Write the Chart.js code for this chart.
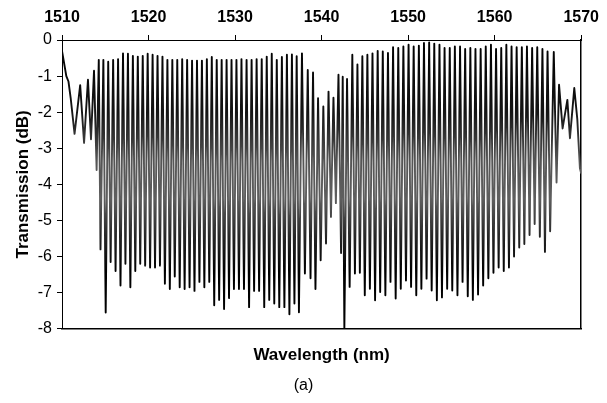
<!DOCTYPE html>
<html>
<head>
<meta charset="utf-8">
<title>Transmission spectrum</title>
<script src="https://cdn.jsdelivr.net/npm/chart.js@4/dist/chart.umd.min.js"></script>
<style>
    html, body { margin: 0; padding: 0; background: #fff; }
    #wrap { width: 607px; height: 403px; }
</style>
</head>
<body>
<div id="wrap"><canvas id="specChart" width="607" height="403"></canvas></div>
<script>
/*************************************************
 * 1. Data (nm / dB)
 *************************************************/
const xTicks = [1510, 1520, 1530, 1540, 1550, 1560, 1570];
const yTicks = [0, -1, -2, -3, -4, -5, -6, -7, -8];

// slow ripples at both ends of the sweep
const edgeNm = [1510.00, 1510.50, 1510.75, 1511.00, 1511.45, 1512.10, 1512.55, 1513.00, 1513.35, 1513.70,
    1514.00, 1514.25, 1514.45, 1514.78,
    1567.15, 1567.44, 1567.85, 1568.40, 1568.70, 1569.20, 1569.55, 1569.85, 1570.00];
const edgeDb = [-0.30, -1.00, -1.15, -1.60, -2.60, -1.25, -2.85, -1.10, -2.75, -0.85,
    -3.60, -0.55, -5.80, -0.55,
    -3.95, -1.24, -2.45, -1.66, -2.72, -1.33, -2.20, -3.55, -3.70];

// fringe maxima
const peakNm = [
    1515.34, 1515.91, 1516.48, 1517.05, 1517.62, 1518.19, 1518.76, 1519.33, 1519.90, 1520.47,
    1521.04, 1521.61, 1522.18, 1522.75, 1523.32, 1523.89, 1524.46, 1525.03, 1525.60, 1526.17,
    1526.74, 1527.31, 1527.88, 1528.45, 1529.02, 1529.59, 1530.16,
    1530.74, 1531.33, 1531.91, 1532.49, 1533.08, 1533.66, 1534.24, 1534.82, 1535.41, 1535.99,
    1536.57, 1537.12, 1537.73, 1538.40, 1539.01, 1539.59, 1540.20, 1540.80, 1541.37, 1541.95,
    1542.44, 1542.94, 1543.55, 1544.14, 1544.71, 1545.29,
    1545.88, 1546.48, 1547.07, 1547.67, 1548.26, 1548.86, 1549.45, 1550.05, 1550.64, 1551.24,
    1551.83, 1552.43, 1553.02, 1553.62, 1554.21, 1554.81, 1555.40, 1556.00, 1556.59, 1557.19,
    1557.78, 1558.38, 1558.97, 1559.57, 1560.16, 1560.76, 1561.35, 1561.95, 1562.54, 1563.14,
    1563.73, 1564.33, 1564.92, 1565.52, 1566.11, 1566.83
];
const peakDb = [
    -0.60, -0.55, -0.53, -0.37, -0.38, -0.44, -0.46, -0.44, -0.38, -0.41,
    -0.44, -0.46, -0.55, -0.55, -0.55, -0.53, -0.55, -0.57, -0.57, -0.57,
    -0.53, -0.47, -0.55, -0.55, -0.55, -0.55, -0.55,
    -0.53, -0.55, -0.55, -0.53, -0.53, -0.46, -0.38, -0.55, -0.47, -0.41,
    -0.40, -0.45, -0.37, -0.83, -0.90, -1.61, -1.84, -1.43, -1.60, -0.96,
    -1.02, -1.08, -0.41, -0.68, -0.45, -0.41,
    -0.37, -0.30, -0.32, -0.36, -0.20, -0.22, -0.18, -0.13, -0.18, -0.16,
    -0.08, -0.07, -0.10, -0.13, -0.22, -0.22, -0.18, -0.18, -0.25, -0.22,
    -0.25, -0.25, -0.18, -0.13, -0.25, -0.22, -0.13, -0.18, -0.20, -0.20,
    -0.18, -0.22, -0.20, -0.25, -0.32, -0.33
];

// fringe minima
const troughNm = [
    1515.05, 1515.62, 1516.19, 1516.76, 1517.33, 1517.90, 1518.47, 1519.04, 1519.61, 1520.18,
    1520.75, 1521.32, 1521.89, 1522.46, 1523.03, 1523.60, 1524.17, 1524.74, 1525.31, 1525.88,
    1526.45, 1527.02, 1527.59, 1528.16, 1528.73, 1529.30, 1529.87,
    1530.45, 1531.03, 1531.62, 1532.20, 1532.78, 1533.37, 1533.95, 1534.53, 1535.11, 1535.70,
    1536.28, 1536.86, 1537.38, 1538.07, 1538.72, 1539.29, 1539.89, 1540.51, 1541.08, 1541.65,
    1542.25, 1542.63, 1543.24, 1543.85, 1544.42, 1544.99,
    1545.58, 1546.18, 1546.77, 1547.37, 1547.96, 1548.56, 1549.15, 1549.75, 1550.34, 1550.94,
    1551.53, 1552.13, 1552.72, 1553.32, 1553.91, 1554.51, 1555.10, 1555.70, 1556.29, 1556.89,
    1557.48, 1558.08, 1558.67, 1559.27, 1559.86, 1560.46, 1561.05, 1561.65, 1562.24, 1562.84,
    1563.43, 1564.03, 1564.62, 1565.22, 1565.81, 1566.41
];
const troughDb = [
    -7.55, -6.15, -6.40, -6.80, -6.20, -6.85, -6.40, -6.20, -6.25, -6.30,
    -6.30, -6.25, -6.75, -6.90, -6.55, -6.85, -6.90, -6.85, -6.95, -6.70,
    -6.85, -6.70, -7.35, -7.20, -7.45, -7.15, -6.90,
    -6.90, -6.90, -7.40, -6.95, -6.95, -7.40, -7.20, -7.30, -7.40, -7.40,
    -7.60, -7.30, -7.54, -6.47, -6.60, -6.90, -6.10, -5.64, -4.90, -4.52,
    -5.90, -8.00, -6.84, -6.47, -6.45, -7.07,
    -6.89, -7.21, -6.98, -7.07, -6.70, -7.16, -6.89, -6.66, -6.84, -7.07,
    -6.89, -6.61, -6.94, -7.21, -7.13, -6.89, -6.94, -7.07, -6.70, -7.10,
    -7.20, -7.05, -6.80, -6.60, -6.45, -6.30, -6.40, -6.30, -6.00, -5.75,
    -5.65, -5.40, -5.10, -5.45, -5.87, -5.30
];

/*************************************************
 * 2. Helpers
 *************************************************/
const FONT = "'Liberation Sans', Arial, Helvetica, sans-serif";

function buildTrace() {
    const pts = [];
    const add = (xs, ys) => xs.forEach((x, i) => pts.push({ x: x, y: ys[i] }));
    add(edgeNm, edgeDb);
    add(peakNm, peakDb);
    add(troughNm, troughDb);
    pts.sort((a, b) => a.x - b.x);
    return pts;
}

// dark at the fringe tips, greyish through the middle of the swing
function traceColor(ctx) {
    const area = ctx.chart.chartArea;
    if (!area) return "#000";
    const g = ctx.chart.ctx.createLinearGradient(0, area.top, 0, area.bottom);
    g.addColorStop(0.00, "#000");
    g.addColorStop(0.25, "#141414");
    g.addColorStop(0.42, "#555");
    g.addColorStop(0.55, "#5e5e5e");
    g.addColorStop(0.68, "#262626");
    g.addColorStop(0.80, "#000");
    g.addColorStop(1.00, "#000");
    return g;
}

/*************************************************
 * 3. Chart
 *************************************************/
window.onload = () => {
    const c = document.getElementById("specChart");

    new Chart(c, {
        type: "line",
        data: {
            datasets: [{
                data: buildTrace(),
                xAxisID: "x",
                yAxisID: "y",
                borderColor: traceColor,
                borderWidth: 1.9,
                borderJoinStyle: "round",
                pointRadius: 0,
                tension: 0,
                fill: false
            }]
        },
        options: {
            responsive: false,
            animation: false,
            devicePixelRatio: 1,
            layout: { padding: 0 },
            plugins: {
                legend: { display: false },
                tooltip: { enabled: false },
                title: {
                    display: true,
                    position: "bottom",
                    text: "(a)",
                    color: "#000",
                    font: { family: FONT, size: 16, weight: "normal" },
                    padding: { top: 7, bottom: 8 }
                }
            },
            scales: {
                x: {
                    type: "linear",
                    position: "top",
                    min: xTicks[0],
                    max: xTicks[xTicks.length - 1],
                    afterBuildTicks: s => { s.ticks = xTicks.map(v => ({ value: v })); },
                    afterFit: s => { s.height = 40; },
                    ticks: {
                        color: "#000",
                        padding: 8,
                        maxRotation: 0,
                        font: { family: FONT, size: 16, weight: "bold" },
                        callback: v => String(v)
                    },
                    grid: { display: true, drawOnChartArea: false, tickLength: 5, color: "#000" },
                    border: { display: true, color: "#000", width: 1 }
                },
                x2: {
                    type: "linear",
                    position: "bottom",
                    min: xTicks[0],
                    max: xTicks[xTicks.length - 1],
                    afterFit: s => { s.height = 40; },
                    ticks: { display: false },
                    grid: { display: true, drawOnChartArea: false, drawTicks: false },
                    border: { display: true, color: "#000", width: 1.5 },
                    title: {
                        display: true,
                        text: "Wavelength (nm)",
                        color: "#000",
                        font: { family: FONT, size: 17, weight: "bold" },
                        padding: { top: 0, bottom: 3 }
                    }
                },
                y: {
                    type: "linear",
                    position: "left",
                    min: yTicks[yTicks.length - 1],
                    max: yTicks[0],
                    afterBuildTicks: s => { s.ticks = yTicks.map(v => ({ value: v })); },
                    afterFit: s => { s.width = 62; },
                    ticks: {
                        color: "#000",
                        padding: 5,
                        font: { family: FONT, size: 16 },
                        callback: v => String(v)
                    },
                    grid: { display: true, drawOnChartArea: false, tickLength: 5, color: "#000" },
                    border: { display: true, color: "#000", width: 1 },
                    title: {
                        display: true,
                        text: "Transmission (dB)",
                        color: "#000",
                        font: { family: FONT, size: 17, weight: "bold" },
                        padding: { top: 13, bottom: 0 }
                    }
                },
                y2: {
                    type: "linear",
                    position: "right",
                    afterFit: s => { s.width = 19; },
                    ticks: { display: false },
                    grid: { display: true, drawOnChartArea: false, drawTicks: false },
                    border: { display: true, color: "#000", width: 1.5 }
                }
            }
        }
    });
};
</script>
</body>
</html>
